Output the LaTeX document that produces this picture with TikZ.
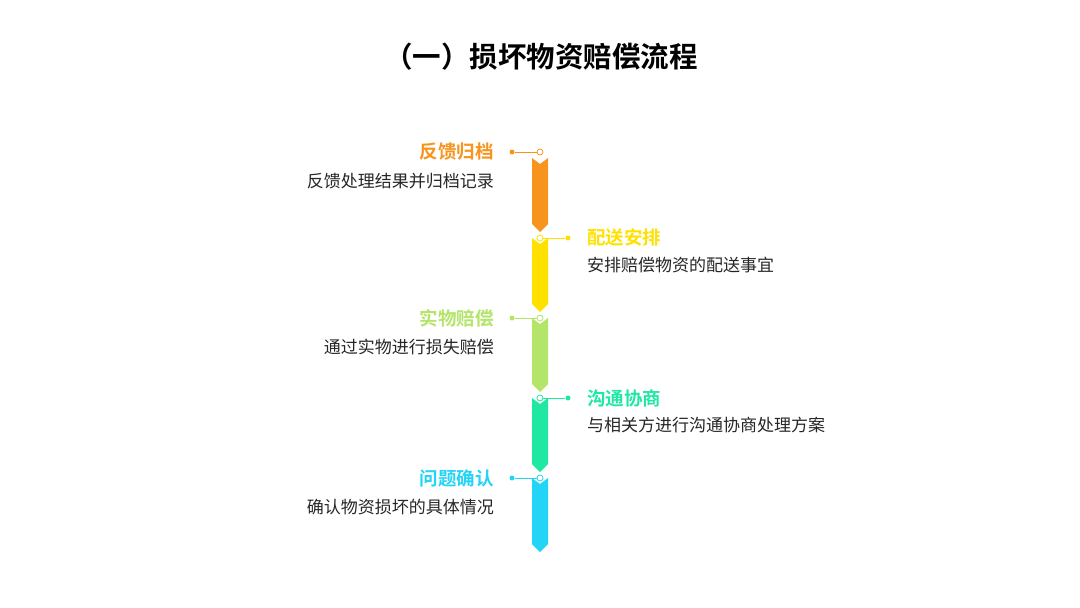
\documentclass[tikz,border=0pt]{standalone}
\usepackage{fontspec}
\setmainfont{Noto Sans CJK SC}
\newfontfamily\cjkb{Noto Sans CJK SC Bold}
\definecolor{corange}{HTML}{F7941D}
\definecolor{cyellow}{HTML}{FFE100}
\definecolor{cgreen}{HTML}{B4E46A}
\definecolor{cteal}{HTML}{1EE8A2}
\definecolor{cblue}{HTML}{22D4F6}
\begin{document}
\begin{tikzpicture}[x=1pt,y=-1pt,
  ttl/.style={font=\cjkb\fontsize{18.5}{18.5}\selectfont,inner sep=0pt},
  dsc/.style={font=\fontsize{17}{17}\selectfont,text=black!85,inner sep=0pt},
  ring/.style={circle,draw=#1,fill=white,line width=0.8pt,minimum size=6pt,inner sep=0pt},
  dotn/.style={circle,fill=#1,minimum size=5pt,inner sep=0pt}]
\useasboundingbox (0,0) rectangle (1080,608);
\node[font=\cjkb\fontsize{28.5}{28.5}\selectfont] (title) at (541,57) {（一）损坏物资赔偿流程};
\def\seg#1#2{\fill[#1] (532,#2) -- (540,#2+6) -- (548,#2) -- (548,#2+66) -- (540,#2+74) -- (532,#2+66) -- cycle;}
\seg{corange}{158}
\seg{cyellow}{238}
\seg{cgreen}{318}
\seg{cteal}{398}
\seg{cblue}{478}
% left items
\foreach \c/\y/\n/\t/\d in {corange/152/a/反馈归档/反馈处理结果并归档记录, cgreen/318/c/实物赔偿/通过实物进行损失赔偿, cblue/478/e/问题确认/确认物资损坏的具体情况}{
  \node[ring=\c] (r\n) at (540,\y) {};
  \node[dotn=\c] (d\n) at (512,\y) {};
  \draw[\c,line width=0.6pt] (d\n) -- (r\n);
  \node[ttl,text=\c,anchor=east] (t\n) at (494,\y) {\t};
  \node[dsc,anchor=east] (s\n) at (494,\y+29) {\d};
}
\foreach \c/\y/\n/\t/\d in {cyellow/238/b/配送安排/安排赔偿物资的配送事宜, cteal/398/d/沟通协商/与相关方进行沟通协商处理方案}{
  \node[ring=\c] (r\n) at (540,\y) {};
  \node[dotn=\c] (d\n) at (568,\y) {};
  \draw[\c,line width=0.6pt] (r\n) -- (d\n);
  \node[ttl,text=\c,anchor=west] (t\n) at (587,\y) {\t};
  \node[dsc,anchor=west] (s\n) at (587,\y+27) {\d};
}
\end{tikzpicture}
\end{document}
